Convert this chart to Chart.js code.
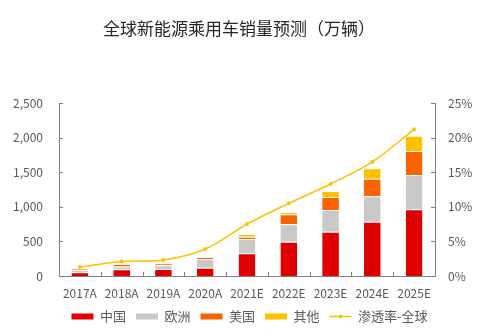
<!DOCTYPE html>
<html>
<head>
<meta charset="utf-8">
<script src="https://cdn.jsdelivr.net/npm/chart.js@4/dist/chart.umd.min.js"></script>
<style>
html,body{margin:0;padding:0;background:#fff;}
#wrap{width:499px;height:336px;position:relative;}
</style>
</head>
<body>
<div id="wrap"><canvas id="c" width="499" height="336"></canvas></div>
<script>
const titleText = '全球新能源乘用车销量预测（万辆）';
const categories = ['2017A','2018A','2019A','2020A','2021E','2022E','2023E','2024E','2025E'];
const china  = [55, 97, 100, 120, 328, 496, 640, 785, 965];
const europe = [30, 40, 55, 126, 207, 251, 314, 367, 495];
const usa    = [20, 35, 30, 27, 33, 145, 188, 254, 346];
const other  = [8, 12, 13, 6, 39, 33, 86, 150, 220];
const penetration = [1.3, 2.1, 2.3, 3.9, 7.5, 10.5, 13.3, 16.5, 21.2];
const leftTicks = [0, 500, 1000, 1500, 2000, 2500];
const rightTicks = [0, 5, 10, 15, 20, 25];
const seriesNames = ['中国','欧洲','美国','其他','渗透率-全球'];

const FONT = '"Noto Sans CJK SC", "Noto Sans", sans-serif';
const TICK_COLOR = '#595959';
const AXIS_COLOR = '#7f7f7f';
const colors = ['#E00000', '#C9C9C9', '#FA6400', '#FFC000', '#FFC000'];

const barBase = {
  type: 'bar', yAxisID: 'y', stack: 's',
  borderColor: '#ffffff', borderWidth: {top: 1, left: 0, right: 0, bottom: 0},
  borderSkipped: false,
  barPercentage: 0.4, categoryPercentage: 1
};

const titlePlugin = {
  id: 'titleText',
  afterDraw(chart) {
    const ctx = chart.ctx;
    ctx.save();
    ctx.font = '17px ' + FONT;
    ctx.fillStyle = '#262626';
    ctx.textAlign = 'center';
    ctx.textBaseline = 'middle';
    ctx.fillText(titleText, 239, 29);
    ctx.restore();
  }
};

const axisTicksPlugin = {
  id: 'axisTicks',
  afterDraw(chart) {
    const ctx = chart.ctx;
    const a = chart.chartArea;
    const x = chart.scales.x, y = chart.scales.y, y1 = chart.scales.y1;
    ctx.save();
    ctx.strokeStyle = AXIS_COLOR;
    ctx.lineWidth = 1;
    ctx.beginPath();
    leftTicks.forEach(v => {
      const py = Math.round(y.getPixelForValue(v)) + 0.5;
      ctx.moveTo(a.left, py); ctx.lineTo(a.left + 4, py);
    });
    rightTicks.forEach(v => {
      const py = Math.round(y1.getPixelForValue(v)) + 0.5;
      ctx.moveTo(a.right, py); ctx.lineTo(a.right - 4, py);
    });
    const half = (x.getPixelForValue(1) - x.getPixelForValue(0)) / 2;
    for (let i = 1; i < categories.length; i++) {
      const px = Math.round(x.getPixelForValue(i) - half) + 0.5;
      ctx.moveTo(px, a.bottom); ctx.lineTo(px, a.bottom - 4);
    }
    ctx.stroke();
    const lg = chart.legend;
    if (lg && lg.legendHitBoxes && lg.legendHitBoxes[4]) {
      const hb = lg.legendHitBoxes[4];
      ctx.fillStyle = colors[4];
      ctx.beginPath();
      ctx.arc(hb.left + 11, hb.top + hb.height / 2, 2, 0, Math.PI * 2);
      ctx.fill();
    }
    ctx.restore();
  }
};

new Chart(document.getElementById('c'), {
  data: {
    labels: categories,
    datasets: [
      Object.assign({}, barBase, {label: seriesNames[0], data: china, backgroundColor: colors[0]}),
      Object.assign({}, barBase, {label: seriesNames[1], data: europe, backgroundColor: colors[1]}),
      Object.assign({}, barBase, {label: seriesNames[2], data: usa, backgroundColor: colors[2]}),
      Object.assign({}, barBase, {label: seriesNames[3], data: other, backgroundColor: colors[3]}),
      {
        type: 'line', label: seriesNames[4], data: penetration, yAxisID: 'y1',
        borderColor: colors[4], backgroundColor: colors[4], borderWidth: 1.5,
        pointRadius: 2, pointBorderWidth: 0, pointBackgroundColor: colors[4],
        tension: 0.35, fill: false
      }
    ]
  },
  options: {
    responsive: false,
    animation: false,
    devicePixelRatio: 1,
    layout: {padding: {top: 103, bottom: 3, left: 0, right: 0}},
    plugins: {
      title: {display: false},
      tooltip: {enabled: false},
      legend: {
        position: 'bottom',
        labels: {
          font: {family: FONT, size: 13},
          color: TICK_COLOR,
          padding: 10,
          usePointStyle: true,
          pointStyleWidth: 22,
          boxHeight: 6,
          generateLabels(chart) {
            return chart.data.datasets.map((ds, i) => ({
              text: ds.label,
              fillStyle: colors[i],
              strokeStyle: colors[i],
              lineWidth: i === 4 ? 1.5 : 0,
              pointStyle: i === 4 ? 'line' : 'rect',
              fontColor: TICK_COLOR,
              hidden: false,
              datasetIndex: i
            }));
          }
        }
      }
    },
    scales: {
      x: {
        stacked: true,
        offset: true,
        grid: {display: false, drawTicks: false, offset: true},
        border: {display: true, color: AXIS_COLOR, width: 1},
        ticks: {font: {family: FONT, size: 12}, color: TICK_COLOR, padding: 10, maxRotation: 0, autoSkip: false},
        afterFit(s) { s.height = 24; }
      },
      y: {
        position: 'left',
        stacked: true,
        min: 0, max: 2500,
        afterBuildTicks(s) { s.ticks = leftTicks.map(v => ({value: v})); },
        grid: {display: false, drawTicks: false},
        border: {display: true, color: AXIS_COLOR, width: 1},
        ticks: {
          font: {family: FONT, size: 12}, color: TICK_COLOR, padding: 16,
          callback: v => v.toLocaleString('en-US')
        },
        afterFit(s) { s.width = 59; }
      },
      y1: {
        position: 'right',
        stacked: false,
        min: 0, max: 25,
        afterBuildTicks(s) { s.ticks = rightTicks.map(v => ({value: v})); },
        grid: {display: false, drawTicks: false},
        border: {display: true, color: AXIS_COLOR, width: 1},
        ticks: {
          font: {family: FONT, size: 12}, color: TICK_COLOR, padding: 13,
          callback: v => v + '%'
        },
        afterFit(s) { s.width = 64; }
      }
    }
  },
  plugins: [titlePlugin, axisTicksPlugin]
});
</script>
</body>
</html>
